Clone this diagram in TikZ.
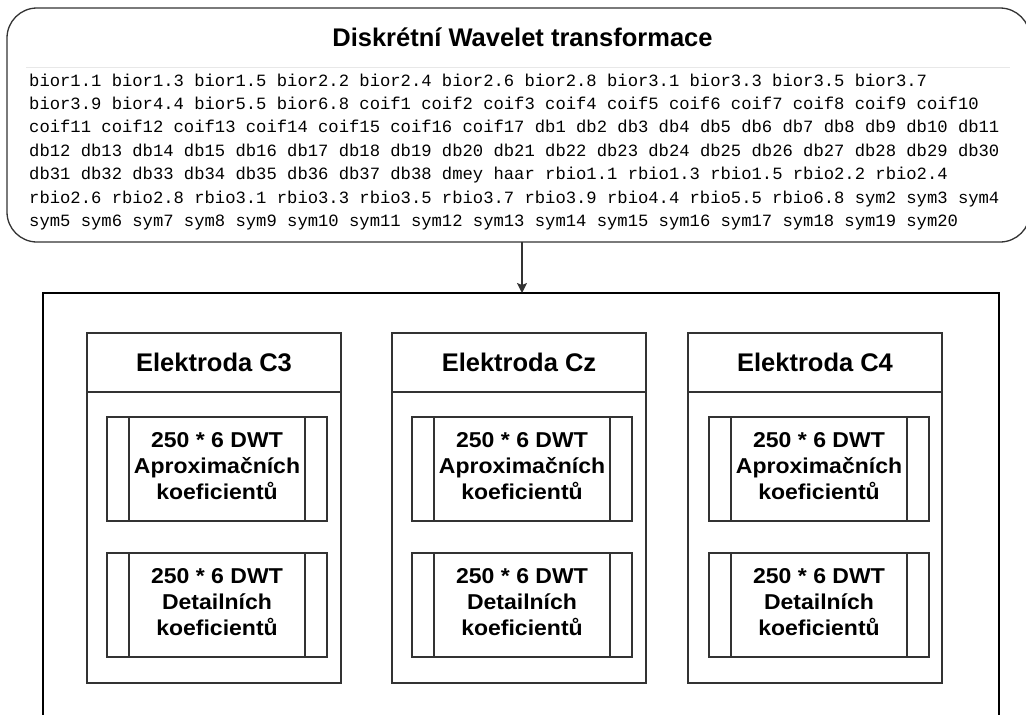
\documentclass[tikz,border=0pt]{standalone}
\usepackage{fontspec}
\setmainfont{Liberation Sans}
\newfontfamily\codefont{Liberation Mono}
\newfontfamily\wideboxfont[FakeStretch=1.07]{Liberation Sans}
\usetikzlibrary{arrows.meta}
\definecolor{edge}{HTML}{333333}
\definecolor{rulegray}{HTML}{E8E8E8}

\begin{document}
\begin{tikzpicture}[x=1pt,y=-1pt,
  boxline/.style={draw=edge,line width=1.3pt,outer sep=0pt},
  methods/.style={boxline,rounded corners=30pt,minimum width=1023pt,minimum height=234pt,inner sep=0pt},
  frame/.style={draw=black,line width=1.3pt,outer sep=0pt,minimum width=956pt,minimum height=460pt,inner sep=0pt},
  heading/.style={font=\bfseries\fontsize{25.5}{30}\selectfont,inner sep=0pt},
  code/.style={font=\codefont\fontsize{17.2}{23.4}\selectfont,anchor=base west,inner sep=0pt},
  elhead/.style={boxline,minimum width=254pt,minimum height=59pt,inner sep=0pt,font=\bfseries\fontsize{25.5}{30}\selectfont},
  elbody/.style={boxline,minimum width=254pt,minimum height=291pt,anchor=north,inner sep=0pt},
  coefbox/.style={boxline,minimum width=220pt,minimum height=104pt,inner sep=0pt,
    path picture={\draw[edge,line width=1.3pt]
      ([xshift=22pt]path picture bounding box.north west) -- ([xshift=22pt]path picture bounding box.south west)
      ([xshift=-22pt]path picture bounding box.north east) -- ([xshift=-22pt]path picture bounding box.south east);}},
  coeftext/.style={inner sep=0pt,align=center,yshift=2.5pt,
    font=\wideboxfont\bfseries\fontsize{21.5}{26}\selectfont},
  arr/.style={draw=edge,line width=1.3pt,-{Stealth[length=10pt,width=10pt,inset=2pt]}}
]
\useasboundingbox (0,0) rectangle (1026,715);

% wavelet families
\node[methods] (dwt) at (518.5,125) {};
\node[heading,anchor=base] (title) at (522.5,46.5) {Diskrétní Wavelet transformace};
\draw[rulegray,line width=1pt] (26,67) -- (1010,67);
\node[code] (l1) at (29,86.0)  {bior1.1 bior1.3 bior1.5 bior2.2 bior2.4 bior2.6 bior2.8 bior3.1 bior3.3 bior3.5 bior3.7};
\node[code] (l2) at (29,109.4) {bior3.9 bior4.4 bior5.5 bior6.8 coif1 coif2 coif3 coif4 coif5 coif6 coif7 coif8 coif9 coif10};
\node[code] (l3) at (29,132.8) {coif11 coif12 coif13 coif14 coif15 coif16 coif17 db1 db2 db3 db4 db5 db6 db7 db8 db9 db10 db11};
\node[code] (l4) at (29,156.2) {db12 db13 db14 db15 db16 db17 db18 db19 db20 db21 db22 db23 db24 db25 db26 db27 db28 db29 db30};
\node[code] (l5) at (29,179.6) {db31 db32 db33 db34 db35 db36 db37 db38 dmey haar rbio1.1 rbio1.3 rbio1.5 rbio2.2 rbio2.4};
\node[code] (l6) at (29,203.0) {rbio2.6 rbio2.8 rbio3.1 rbio3.3 rbio3.5 rbio3.7 rbio3.9 rbio4.4 rbio5.5 rbio6.8 sym2 sym3 sym4};
\node[code] (l7) at (29,226.4) {sym5 sym6 sym7 sym8 sym9 sym10 sym11 sym12 sym13 sym14 sym15 sym16 sym17 sym18 sym19 sym20};

% electrode frame
\node[frame] (frame) at (521,523) {};
\coordinate (ax) at (522,0);
\draw[arr] (dwt.south -| ax) -- (frame.north -| ax);

% electrodes
\node[elhead] (c3h) at (214,362.5) {Elektroda C3};
\node[elbody] (c3b) at (c3h.south) {};
\node[elhead] (czh) at (519,362.5) {Elektroda Cz};
\node[elbody] (czb) at (czh.south) {};
\node[elhead] (c4h) at (815,362.5) {Elektroda C4};
\node[elbody] (c4b) at (c4h.south) {};

% coefficient blocks: approximation above, detail below
\foreach \nm/\cx in {c3/217, cz/522, c4/819} {
  \node[coefbox] (\nm a) at (\cx,469) {};
  \node[coeftext] (\nm at) at (\nm a.center) {250 * 6 DWT\\Aproximačních\\koeficientů};
  \node[coefbox] (\nm d) at (\cx,605) {};
  \node[coeftext] (\nm dt) at (\nm d.center) {250 * 6 DWT\\Detailních\\koeficientů};
}
\end{tikzpicture}
\end{document}
